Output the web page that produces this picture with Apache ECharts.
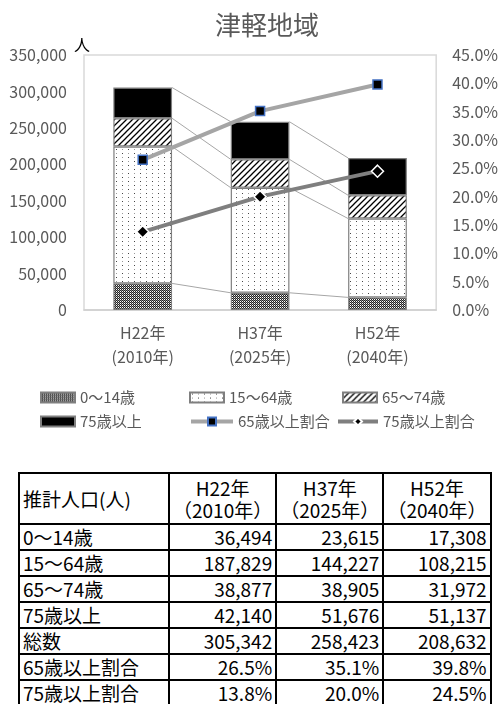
<!DOCTYPE html>
<html lang="ja">
<head>
<meta charset="utf-8">
<script src="https://cdn.jsdelivr.net/npm/echarts@6/dist/echarts.min.js"></script>
<style>
  html, body { margin: 0; padding: 0; background: #fff; }
  #chart { position: absolute; left: 0; top: 0; width: 501px; height: 470px; }
  #table {
    position: absolute; left: 18px; top: 472px;
    border-collapse: collapse;
    font-family: "Noto Sans CJK JP", sans-serif;
    font-size: 19px; color: #000;
  }
  #table td { border: 2px solid #000; padding: 0 3px; height: 24px; line-height: 22px; white-space: nowrap; }
  #table tr.head td { height: 49px; line-height: 22px; }
  #table td.num { text-align: right; }
  #table tr.head td.num { text-align: center; }
</style>
</head>
<body>
<div id="chart"></div>
<table id="table"></table>
<script>
// 区分・データ
const eras = ["H22年", "H37年", "H52年"];
const years = ["2010年", "2025年", "2040年"];
const age0to14 = [36494, 23615, 17308];
const age15to64 = [187829, 144227, 108215];
const age65to74 = [38877, 38905, 31972];
const age75plus = [42140, 51676, 51137];
const totals = [305342, 258423, 208632];
const rate65plus = [26.5, 35.1, 39.8];
const rate75plus = [13.8, 20.0, 24.5];

const leftAxis = { min: 0, max: 350000, interval: 50000 };
const rightAxis = { min: 0, max: 45, interval: 5 };

// パターン塗り
function makePattern(w, h, draw) {
  const c = document.createElement("canvas");
  c.width = w;
  c.height = h;
  const ctx = c.getContext("2d");
  ctx.fillStyle = "#fff";
  ctx.fillRect(0, 0, w, h);
  draw(ctx);
  return { image: c, repeat: "repeat" };
}

const patChecker = makePattern(2, 2, (ctx) => {
  ctx.fillStyle = "#222";
  ctx.fillRect(0, 0, 1, 1);
  ctx.fillRect(1, 1, 1, 1);
  ctx.fillStyle = "#888";
  ctx.fillRect(1, 0, 1, 1);
});

const patDots = makePattern(12, 8, (ctx) => {
  ctx.fillStyle = "#444";
  ctx.fillRect(2, 1, 1, 1);
  ctx.fillRect(8, 5, 1, 1);
  ctx.fillStyle = "#999";
  ctx.fillRect(2, 5, 1, 1);
  ctx.fillRect(8, 1, 1, 1);
});

const patHatch = makePattern(6, 6, (ctx) => {
  ctx.strokeStyle = "#000";
  ctx.lineWidth = 1.3;
  ctx.beginPath();
  ctx.moveTo(-1, 7);
  ctx.lineTo(7, -1);
  ctx.moveTo(-1, 1);
  ctx.lineTo(1, -1);
  ctx.moveTo(5, 7);
  ctx.lineTo(7, 5);
  ctx.stroke();
});

const textColor = "#595959";
const fontFamily = "'Noto Sans CJK JP', sans-serif";

const barNames = ["0〜14歳", "15〜64歳", "65〜74歳", "75歳以上"];
const barData = [age0to14, age15to64, age65to74, age75plus];
const barFills = [patChecker, patDots, patHatch, "#000"];

// 区分線用の累積値
const cumulative = eras.map((_, i) => {
  let sum = 0;
  return barData.map((arr) => (sum += arr[i]));
});
const seriesLineData = eras.map((_, i) => [i].concat(cumulative[i], cumulative[i + 1] || cumulative[i]));

const barSeries = barNames.map((name, k) => ({
  name,
  type: "bar",
  stack: "total",
  barWidth: "50%",
  data: barData[k],
  itemStyle: { color: barFills[k], borderColor: "#7f7f7f", borderWidth: 1.2 },
  emphasis: { disabled: true },
  z: 2,
}));

const chart = echarts.init(document.getElementById("chart"));

const legendBase = {
  itemHeight: 10,
  itemGap: 0,
  itemTextGap: 4,
  textStyle: { color: textColor, fontSize: 15, fontFamily },
  selectedMode: false,
};
const barLegend = { ...legendBase, icon: "rect", itemWidth: 34 };
const lineLegend = { ...legendBase, itemWidth: 42, lineStyle: { width: 4 } };

const option = {
  animation: false,
  textStyle: { fontFamily },
  title: {
    text: "津軽地域",
    left: 210,
    top: 7,
    textStyle: { color: textColor, fontSize: 26, fontWeight: "normal", fontFamily },
  },
  legend: [
    { ...barLegend, data: [barNames[0]], left: 35, top: 385 },
    { ...barLegend, data: [barNames[1]], left: 184, top: 385 },
    { ...barLegend, data: [barNames[2]], left: 337, top: 385 },
    { ...barLegend, data: [barNames[3]], left: 35, top: 409 },
    { ...lineLegend, data: ["65歳以上割合"], left: 184, top: 409 },
    { ...lineLegend, data: ["75歳以上割合"], left: 331, top: 409, itemWidth: 40 },
  ],
  grid: {
    left: 84,
    right: 59,
    top: 55,
    bottom: 160,
    show: true,
    borderColor: "#d9d9d9",
    borderWidth: 1.5,
  },
  xAxis: {
    type: "category",
    data: eras.map((e, i) => e + "\n(" + years[i] + ")"),
    axisLine: { lineStyle: { color: "#d0d0d0", width: 1.5 } },
    axisTick: { show: false },
    axisLabel: { color: textColor, fontSize: 16, lineHeight: 24, margin: 11 },
  },
  yAxis: [
    {
      type: "value",
      ...leftAxis,
      name: "人",
      nameLocation: "end",
      nameGap: 2,
      nameTextStyle: { color: "#000", fontSize: 16, align: "center", padding: [0, 0, 0, -4] },
      axisLine: { show: false },
      axisTick: { show: false },
      splitLine: { show: false },
      axisLabel: {
        color: textColor,
        fontSize: 16,
        margin: 17,
        formatter: (v) => v.toLocaleString("en-US"),
      },
    },
    {
      type: "value",
      ...rightAxis,
      axisLine: { show: false },
      axisTick: { show: false },
      splitLine: { show: false },
      axisLabel: {
        color: textColor,
        fontSize: 16,
        margin: 16,
        formatter: (v) => v.toFixed(1) + "%",
      },
    },
  ],
  series: [
    ...barSeries,
    {
      // 区分線
      type: "custom",
      silent: true,
      z: 1,
      data: seriesLineData.slice(0, eras.length - 1),
      renderItem: (params, api) => {
        const i = api.value(0);
        const half = api.size([1, 0])[0] * 0.25;
        const children = [];
        for (let k = 0; k < 4; k++) {
          const p1 = api.coord([i, api.value(1 + k)]);
          const p2 = api.coord([i + 1, api.value(5 + k)]);
          children.push({
            type: "line",
            shape: { x1: p1[0] + half, y1: p1[1], x2: p2[0] - half, y2: p2[1] },
            style: { stroke: "#a6a6a6", lineWidth: 1 },
          });
        }
        return { type: "group", children };
      },
    },
    {
      name: "65歳以上割合",
      type: "line",
      yAxisIndex: 1,
      data: rate65plus,
      symbol: "rect",
      symbolSize: 9,
      lineStyle: { color: "#a5a5a5", width: 4 },
      itemStyle: { color: "#000", borderColor: "#4472c4", borderWidth: 1.5 },
      emphasis: { disabled: true },
      z: 5,
    },
    {
      name: "75歳以上割合",
      type: "line",
      yAxisIndex: 1,
      data: rate75plus,
      symbol: "diamond",
      symbolSize: 12,
      lineStyle: { color: "#7f7f7f", width: 4 },
      itemStyle: { color: "#000", borderColor: "#fff", borderWidth: 1.5 },
      emphasis: { disabled: true },
      z: 5,
    },
  ],
};

chart.setOption(option);

// 表
const fmt = (v) => v.toLocaleString("en-US");
const pct = (v) => v.toFixed(1) + "%";
const rows = [
  ["0〜14歳", age0to14.map(fmt)],
  ["15〜64歳", age15to64.map(fmt)],
  ["65〜74歳", age65to74.map(fmt)],
  ["75歳以上", age75plus.map(fmt)],
  ["総数", totals.map(fmt)],
  ["65歳以上割合", rate65plus.map(pct)],
  ["75歳以上割合", rate75plus.map(pct)],
];
const colWidths = [150, 100, 101, 101];
let html = "<colgroup>" + colWidths.map((w) => '<col style="width:' + w + 'px">').join("") + "</colgroup>";
html += '<tr class="head"><td>推計人口(人)</td>' +
  eras.map((e, i) => '<td class="num">' + e + "<br>（" + years[i] + "）</td>").join("") + "</tr>";
rows.forEach(([label, vals]) => {
  html += "<tr><td>" + label + "</td>" + vals.map((v) => '<td class="num">' + v + "</td>").join("") + "</tr>";
});
document.getElementById("table").innerHTML = html;
</script>
</body>
</html>
